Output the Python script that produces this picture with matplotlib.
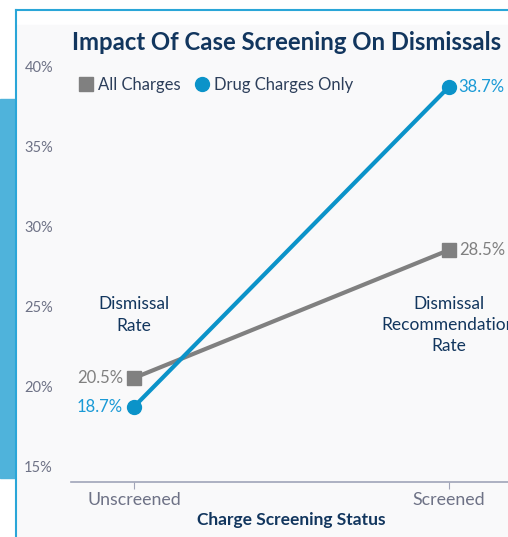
import matplotlib.pyplot as plt
from matplotlib.patches import Rectangle
from matplotlib.lines import Line2D

# data
categories = ['Unscreened', 'Screened']
all_charges = [20.5, 28.5]
drug_only = [18.7, 38.7]
y_ticks = [15, 20, 25, 30, 35, 40]

grey = '#808080'
blue = '#0b93c9'
navy = '#12365e'
tick_col = '#6e7286'

plt.rcParams['font.family'] = ['Lato', 'DejaVu Sans']

W, H = 508, 537
fig = plt.figure(figsize=(W / 100, H / 100), dpi=100)
fig.patch.set_facecolor('white')

# decorations: left blue block, frame and grey panel
fig.patches.append(Rectangle((0, 1 - 478 / H), 15 / W, (478 - 99) / H,
                             transform=fig.transFigure, color='#4fb3db', zorder=-2))
fig.patches.append(Rectangle((17 / W, 0), 1, 1 - 25 / H,
                             transform=fig.transFigure, color='#f9f9fa', zorder=-2))
fig.lines.append(Line2D([15.5 / W, 15.5 / W], [0, 1 - 9.5 / H], transform=fig.transFigure,
                        color='#2aa6d8', lw=1.5, zorder=-1))
fig.lines.append(Line2D([15.5 / W, 1], [1 - 9.5 / H, 1 - 9.5 / H], transform=fig.transFigure,
                        color='#2aa6d8', lw=1.5, zorder=-1))

ax = fig.add_axes([71 / W, 1 - 482 / H, 441 / W, (482 - 55) / H], zorder=2)
ax.set_facecolor('none')
x = [0, 1]
ax.plot(x, all_charges, color=grey, lw=3, marker='s', markersize=10, clip_on=False, zorder=3)
ax.plot(x, drug_only, color=blue, lw=3, marker='o', markersize=10, clip_on=False, zorder=4)

ax.set_xlim(-0.2, 1.2)
ax.set_ylim(14, 14 + (482 - 55) / 16)
ax.set_xticks(x)
ax.set_xticklabels(categories, fontsize=12.8, color=tick_col)
ax.set_yticks(y_ticks)
ax.set_yticklabels([f'{v}%' for v in y_ticks], fontsize=10.5, color=tick_col)
ax.tick_params(axis='y', length=0, pad=13)
ax.tick_params(axis='x', length=5, color='#a0a4b8', pad=2)
for s in ['top', 'right', 'left']:
    ax.spines[s].set_visible(False)
ax.spines['bottom'].set_color('#a0a4b8')
ax.spines['bottom'].set_linewidth(1.2)

# value labels
ax.annotate(f'{all_charges[0]}%', (0, all_charges[0]), xytext=(-8, 0), textcoords='offset points',
            ha='right', va='center', fontsize=12, color=grey)
ax.annotate(f'{drug_only[0]}%', (0, drug_only[0]), xytext=(-8, 0), textcoords='offset points',
            ha='right', va='center', fontsize=12, color='#1a9ad6')
ax.annotate(f'{all_charges[1]}%', (1, all_charges[1]), xytext=(7, 0), textcoords='offset points',
            ha='left', va='center', fontsize=12, color=grey)
ax.annotate(f'{drug_only[1]}%', (1, drug_only[1]), xytext=(7, 0), textcoords='offset points',
            ha='left', va='center', fontsize=12, color='#1a9ad6')

# category notes
ax.text(0, 24.44, 'Dismissal\nRate', ha='center', va='center', fontsize=12.5,
        color=navy, linespacing=1.4)
ax.text(1, 23.8, 'Dismissal\nRecommendation\nRate', ha='center', va='center', fontsize=12.5,
        color=navy, linespacing=1.4, clip_on=False)

ax.set_xlabel('Charge Screening Status', fontsize=12.5, fontweight='bold', color=navy, labelpad=3)

fig.text(72 / W, 1 - 43 / H, 'Impact Of Case Screening On Dismissals', fontsize=17.2,
         fontweight='bold', color=navy, ha='left', va='center')

handles = [Line2D([], [], color=grey, marker='s', markersize=10, linestyle='none'),
           Line2D([], [], color=blue, marker='o', markersize=10, linestyle='none')]
fig.legend(handles, ['All Charges', 'Drug Charges Only'], loc='center left',
           bbox_to_anchor=(79 / W, 1 - 85 / H), ncol=2, frameon=False, fontsize=12,
           handlelength=0.8, handletextpad=0.35, columnspacing=0.85, labelcolor='#2c3e5a',
           borderaxespad=0, borderpad=0)

fig.savefig('out.png', dpi=100)
